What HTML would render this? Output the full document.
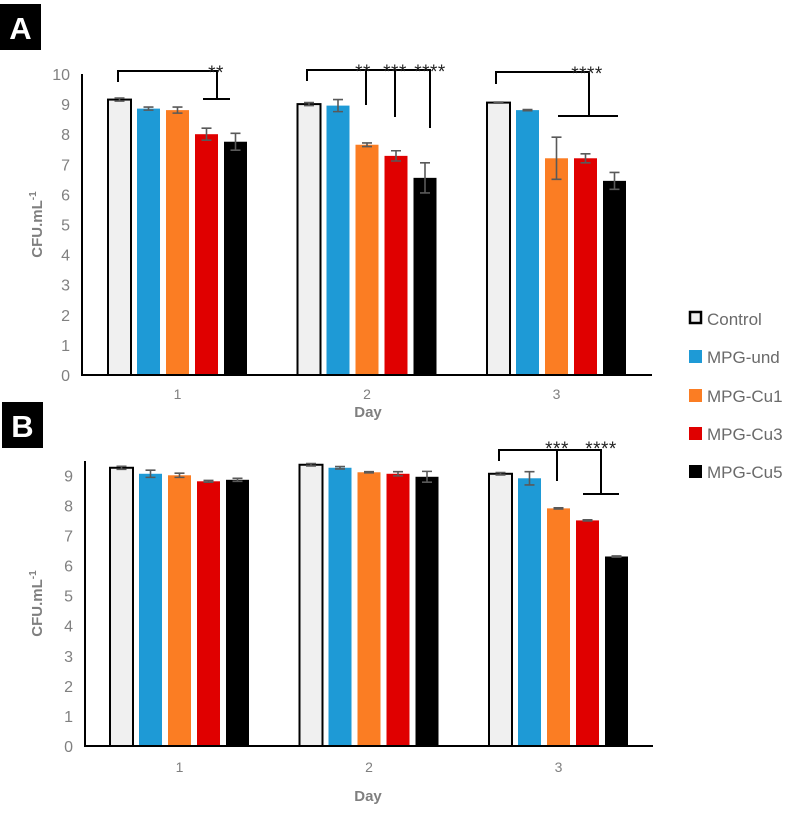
<!DOCTYPE html>
<html><head><meta charset="utf-8"><style>
body{margin:0;background:#fff;width:787px;height:808px;overflow:hidden}
svg{font-family:"Liberation Sans",sans-serif}
</style></head><body>
<svg id="c" width="787" height="808"></svg>
<script>
const days=["1","2","3"];
const series=["Control","MPG-und","MPG-Cu1","MPG-Cu3","MPG-Cu5"];
const colors=["#f0f0f0","#1e9ad6","#fb7d23","#e00000","#000000"];
const aVals=[[9.15,8.85,8.8,8.0,7.75],[9.0,8.95,7.65,7.28,6.55],[9.05,8.8,7.2,7.2,6.45]];
const aErr=[[0.05,0.05,0.1,0.2,0.28],[0.05,0.2,0.06,0.17,0.5],[0.02,0.02,0.7,0.15,0.28]];
const bVals=[[9.25,9.05,9.0,8.8,8.85],[9.35,9.25,9.1,9.05,8.95],[9.05,8.9,7.9,7.5,6.3]];
const bErr=[[0.05,0.12,0.07,0.03,0.05],[0.04,0.04,0.02,0.07,0.18],[0.04,0.22,0.02,0.02,0.02]];
const aTicks=[0,1,2,3,4,5,6,7,8,9,10];
const bTicks=[0,1,2,3,4,5,6,7,8,9];
const NS="http://www.w3.org/2000/svg";
const svg=document.getElementById('c');
function mk(t,a,txt,p){const e=document.createElementNS(NS,t);for(const k in a)e.setAttribute(k,a[k]);if(txt!=null)e.textContent=txt;(p||svg).appendChild(e);return e;}
function panel(name,vals,errs,ticks,ax,y0,ppu,ytop,xend,x1,dayY,titleY){
 const g=mk('g',{});
 
 
 const y=v=>y0-v*ppu;
 ticks.forEach(t=>{const e=mk('text',{x:ax-12,y:y(t)+6,'text-anchor':'end','font-size':16,fill:'#808080'},t,g);
  });
 const gs=189.5,bw=23,bs=29;
 vals.forEach((grp,i)=>{
  grp.forEach((v,j)=>{
   const x=x1+i*gs+j*bs;
   const r=mk('rect',{x:x,y:y(v),width:bw,height:y0-y(v),fill:colors[j],stroke:j==0?'#000':'none','stroke-width':2},null,g);
   
   
   const cx=x+bw/2,e=errs[i][j];
   const eb=mk('path',{d:`M${cx},${y(v+e)}V${y(v-e)}M${cx-5},${y(v+e)}h10M${cx-5},${y(v-e)}h10`,stroke:'#595959','stroke-width':1.6,fill:'none'},null,g);
   
  });
  const lx=x1+i*gs+2*bs+bw/2;
  const dl=mk('text',{x:lx,y:dayY,'text-anchor':'middle','font-size':14,fill:'#7f7f7f'},days[i],g);
  
 });
 const axl=mk('path',{d:`M${ax},${ytop}V${y0}H${xend}`,stroke:'#000','stroke-width':2,fill:'none'},null,g);
 
 const xt=mk('text',{x:368,y:titleY,'text-anchor':'middle','font-size':15,'font-weight':'bold',fill:'#7f7f7f'},'Day',g);
 
 const cy=(ytop+y0)/2;
 const yt=mk('text',{x:0,y:0,transform:`translate(42,${cy}) rotate(-90)`,'text-anchor':'middle','font-size':15,'font-weight':'bold',fill:'#7f7f7f'},null,g);
 
 yt.innerHTML='CFU.mL<tspan dy="-6" font-size="10">-1</tspan>';
}
panel('panel-a',aVals,aErr,aTicks,82,375,30.1,74,652,108,399,417);
panel('panel-b',bVals,bErr,bTicks,85,746,30.08,461,653,110,772,801);
[['A',0,4,'panel-a-label'],['B',2,402,'panel-b-label']].forEach(([t,x,yy,n])=>{
 const r=mk('rect',{x:x,y:yy,width:41,height:46,fill:'#000'});
 
 const e=mk('text',{x:x+20.5,y:yy+35,'text-anchor':'middle','font-size':31,'font-weight':'bold',fill:'#fff'},t);
 
});
function br(d,labels){
 const p=mk('path',{d:d,stroke:'#000','stroke-width':2,fill:'none'});
 
 labels.forEach(([t,x,yy])=>{const e=mk('text',{x:x,y:yy,'text-anchor':'middle','font-size':19,fill:'#222','letter-spacing':'0.5'},t);
  });
}
br('M118,82V71H217V99M203,99H230',[['**',216,79]]);
br('M307,81V70H430V128M366,70V105M395,70V117',[['**',363,78],['***',395,78],['****',430,78]]);
br('M496,84V72H589V116M558,116H618',[['****',587,80]]);
br('M499,461V450H601V494M557,450V481M583,494H619',[['***',557,455],['****',601,455]]);
const ly=[318,356,395,433,471];
series.forEach((s,i)=>{
 const r=mk('rect',{x:i==0?690:689,y:ly[i]-6,width:i==0?11:13,height:i==0?11:13,fill:colors[i],stroke:i==0?'#000':'none','stroke-width':2.5});
 
 const t=mk('text',{x:707,y:ly[i]+7,'font-size':17,fill:'#6a6a6a'},s);
 
});
</script>
</body></html>
